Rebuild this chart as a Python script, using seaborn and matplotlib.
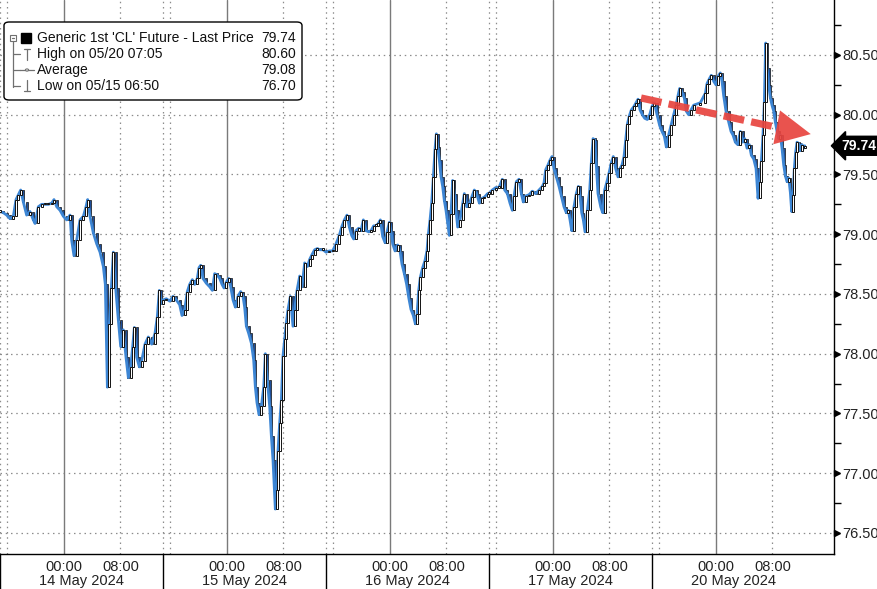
import numpy as np
import pandas as pd
import matplotlib
matplotlib.use("Agg")
import matplotlib.pyplot as plt
import seaborn as sns
from matplotlib.patches import FancyBboxPatch, Rectangle, Circle
from matplotlib.lines import Line2D
from matplotlib.transforms import blended_transform_factory

# trading sessions are 23h long, each opens at 15:00 (display time)
SESSION_HOURS = 23
days = ['14 May 2024', '15 May 2024', '16 May 2024', '17 May 2024', '20 May 2024']

# hours into each session / price
s1_h = [0.0, 0.47, 0.94, 1.41, 1.88, 2.26, 2.59, 2.92, 3.29, 3.76, 4.23, 4.70, 4.94, 5.41, 5.88,
        6.35, 6.82, 7.29, 7.62, 8.00, 8.47, 8.94, 9.41, 9.88, 10.11, 10.44, 10.82, 11.29, 11.76,
        12.14, 12.37, 12.70, 13.17, 13.64, 14.11, 14.58, 14.86, 15.15, 15.43, 15.71, 15.99, 16.32,
        16.70, 17.03, 17.40, 17.78, 18.11, 18.44, 18.72, 18.96, 19.29, 19.66, 19.99, 20.46, 20.93,
        21.40, 21.87, 22.20, 22.48, 22.77]
s1_p = [79.19, 79.18, 79.16, 79.13, 79.15, 79.29, 79.33, 79.37, 79.27, 79.16, 79.19, 79.12, 79.09,
        79.23, 79.25, 79.25, 79.25, 79.26, 79.29, 79.23, 79.20, 79.15, 79.12, 79.16, 78.95, 78.82,
        78.95, 79.12, 79.15, 79.23, 79.29, 79.15, 79.01, 78.92, 78.85, 78.73, 78.58, 77.72, 78.25,
        78.55, 78.85, 78.55, 78.28, 78.06, 78.20, 77.97, 77.80, 77.89, 78.06, 78.22, 77.97, 77.89,
        77.94, 78.08, 78.14, 78.08, 78.17, 78.31, 78.53, 78.42]

s2_h = [0.0, 0.47, 0.94, 1.41, 1.88, 2.35, 2.68, 3.06, 3.43, 3.76, 4.14, 4.47, 4.84, 5.08, 5.32,
        5.64, 6.11, 6.59, 6.96, 7.29, 7.62, 8.00, 8.33, 8.61, 8.94, 9.27, 9.55, 9.88, 10.21, 10.58,
        10.96, 11.29, 11.52, 11.76, 12.09, 12.46, 12.79, 13.03, 13.26, 13.55, 13.88, 14.21, 14.44,
        14.72, 15.05, 15.29, 15.52, 15.76, 15.85, 16.04, 16.23, 16.46, 16.70, 16.93, 17.17, 17.40,
        17.64, 17.97, 18.34, 18.58, 18.91, 19.29, 19.61, 19.99, 20.37, 20.70, 21.03, 21.40, 21.78,
        22.11, 22.58]
s2_p = [78.45, 78.46, 78.44, 78.48, 78.45, 78.41, 78.32, 78.37, 78.52, 78.58, 78.62, 78.58, 78.63,
        78.72, 78.74, 78.63, 78.59, 78.56, 78.53, 78.67, 78.66, 78.63, 78.58, 78.55, 78.60, 78.63,
        78.56, 78.45, 78.39, 78.48, 78.52, 78.48, 78.39, 78.23, 78.17, 78.09, 77.95, 77.72, 77.59,
        77.49, 77.56, 77.72, 78.00, 77.78, 77.56, 77.31, 77.11, 76.80, 76.70, 76.86, 77.19, 77.42,
        77.61, 77.98, 78.12, 78.26, 78.37, 78.48, 78.23, 78.37, 78.53, 78.65, 78.56, 78.76, 78.73,
        78.79, 78.83, 78.87, 78.88, 78.87, 78.87]

s3_h = [0.0, 0.47, 0.94, 1.41, 1.88, 2.21, 2.59, 2.96, 3.29, 3.62, 3.90, 4.23, 4.61, 4.94, 5.27,
        5.64, 6.02, 6.35, 6.73, 7.06, 7.38, 7.67, 8.00, 8.33, 8.61, 8.94, 9.17, 9.41, 9.74, 10.11,
        10.44, 10.72, 11.05, 11.38, 11.67, 11.99, 12.32, 12.61, 12.84, 13.08, 13.31, 13.64, 13.97,
        14.25, 14.44, 14.68, 14.91, 15.15, 15.38, 15.57, 15.76, 15.99, 16.23, 16.46, 16.70, 16.93,
        17.17, 17.40, 17.64, 17.87, 18.11, 18.34, 18.58, 18.91, 19.29, 19.52, 19.85, 20.23, 20.56,
        20.93, 21.26, 21.64, 22.01, 22.34, 22.81]
s3_p = [78.85, 78.86, 78.86, 78.92, 78.99, 79.06, 79.12, 79.16, 79.06, 78.99, 78.96, 79.03, 79.05,
        79.03, 79.12, 79.03, 79.02, 79.03, 79.07, 79.07, 79.09, 79.12, 78.98, 78.93, 79.02, 79.10,
        79.03, 78.92, 78.86, 78.91, 78.86, 78.75, 78.67, 78.58, 78.47, 78.37, 78.32, 78.25, 78.33,
        78.53, 78.64, 78.72, 78.78, 78.86, 79.00, 79.12, 79.26, 79.48, 79.71, 79.84, 79.73, 79.62,
        79.48, 79.40, 79.28, 79.20, 79.09, 78.99, 79.17, 79.45, 79.34, 79.20, 79.06, 79.12, 79.26,
        79.34, 79.23, 79.26, 79.31, 79.37, 79.34, 79.26, 79.30, 79.31, 79.34]

s4_h = [0.0, 0.47, 0.94, 1.41, 1.88, 2.21, 2.59, 2.96, 3.29, 3.53, 3.86, 4.23, 4.56, 4.84, 5.17,
        5.64, 6.11, 6.59, 7.06, 7.53, 7.76, 8.00, 8.33, 8.61, 8.89, 9.17, 9.50, 9.88, 10.21, 10.58,
        10.91, 11.19, 11.43, 11.67, 11.99, 12.32, 12.61, 12.84, 13.08, 13.31, 13.55, 13.88, 14.21,
        14.44, 14.68, 14.91, 15.15, 15.38, 15.76, 16.04, 16.32, 16.60, 16.93, 17.26, 17.54, 17.87,
        18.20, 18.49, 18.77, 19.05, 19.29, 19.52, 19.80, 20.08, 20.46, 20.74, 21.03, 21.31, 21.64,
        21.97, 22.34, 22.67]
s4_p = [79.34, 79.37, 79.39, 79.39, 79.46, 79.37, 79.34, 79.26, 79.20, 79.32, 79.44, 79.46, 79.34,
        79.27, 79.32, 79.33, 79.36, 79.34, 79.37, 79.40, 79.43, 79.54, 79.58, 79.62, 79.65, 79.55,
        79.48, 79.40, 79.32, 79.23, 79.18, 79.20, 79.12, 79.03, 79.23, 79.34, 79.40, 79.32, 79.18,
        79.12, 79.02, 79.20, 79.37, 79.60, 79.80, 79.79, 79.57, 79.34, 79.23, 79.18, 79.37, 79.43,
        79.51, 79.60, 79.65, 79.55, 79.48, 79.55, 79.58, 79.65, 79.79, 79.92, 79.99, 80.04, 80.07,
        80.10, 80.13, 80.04, 80.00, 79.97, 79.96, 80.00]

s5_h = [0.0, 0.33, 0.71, 1.08, 1.41, 1.74, 2.02, 2.35, 2.68, 3.06, 3.39, 3.67, 3.90, 4.23, 4.56,
        4.84, 5.17, 5.50, 5.88, 6.82, 7.53, 7.76, 8.09, 8.37, 8.70, 9.03, 9.31, 9.64, 9.88, 10.11,
        10.44, 10.82, 11.15, 11.43, 11.76, 12.09, 12.46, 12.79, 13.08, 13.41, 13.73, 14.02, 14.35,
        14.68, 14.96, 15.19, 15.43, 15.66, 15.85, 16.04, 16.23, 16.46, 16.70, 16.93, 17.17, 17.40,
        17.64, 17.87, 18.11, 18.34, 18.58, 18.81, 19.05, 19.29, 19.52, 19.71, 19.90, 20.08, 20.27,
        20.46, 20.70, 20.93, 21.17, 21.40, 21.54]
s5_p = [80.07, 80.10, 80.00, 79.91, 79.86, 79.82, 79.73, 79.83, 79.91, 80.00, 80.08, 80.16, 80.22,
        80.19, 80.14, 80.03, 80.00, 80.04, 80.08, 80.10, 80.18, 80.26, 80.30, 80.33, 80.28, 80.25,
        80.32, 80.35, 80.28, 80.16, 80.03, 79.94, 79.86, 79.83, 79.77, 79.75, 79.86, 79.77, 79.80,
        79.72, 79.75, 79.66, 79.63, 79.55, 79.30, 79.44, 79.61, 79.83, 80.11, 80.60, 80.39, 80.25,
        80.14, 80.08, 80.03, 79.94, 79.86, 79.80, 79.83, 79.72, 79.58, 79.49, 79.44, 79.47, 79.35,
        79.19, 79.33, 79.55, 79.69, 79.77, 79.76, 79.70, 79.75, 79.72, 79.74]

legend_labels = ["Generic 1st 'CL' Future - Last Price", 'High on 05/20 07:05', 'Average',
                 'Low on 05/15 06:50']
legend_values = ['79.74', '80.60', '79.08', '76.70']
last_price = 79.74

frames = []
for i, (h, p) in enumerate([(s1_h, s1_p), (s2_h, s2_p), (s3_h, s3_p), (s4_h, s4_p), (s5_h, s5_p)]):
    frames.append(pd.DataFrame({'t': np.array(h) + SESSION_HOURS * i, 'price': p}))
df = pd.concat(frames, ignore_index=True)

sns.set_style('white')
plt.rcParams['font.family'] = ['Liberation Sans', 'DejaVu Sans']

W, H = 878, 589
fig = plt.figure(figsize=(W / 100, H / 100), dpi=100)
ax = fig.add_axes([0, 35 / H, 834 / W, 554 / H])

blue = '#3d86d4'
grid_c = '#8c8c8c'

# grid
for v in np.arange(76.5, 80.51, 0.5):
    ax.axhline(v, color=grid_c, lw=0.9, ls=(0, (1.2, 3)), zorder=0)
for i in range(5):
    base = SESSION_HOURS * i
    for off in [0, 1, 17]:
        ax.axvline(base + off, color=grid_c, lw=0.9, ls=(0, (1.2, 3)), zorder=0)
    ax.axvline(base + 9, color='#7a7a7a', lw=1.0, zorder=0)

# candles (open = previous close) and the blue price line
opens = df['price'].shift(1).fillna(df['price'])
closes = df['price']
up = closes >= opens
ax.bar(df['t'][~up], (opens - closes)[~up].clip(lower=0.012), bottom=closes[~up], width=0.3,
       color='#1f4f9a', edgecolor='#111111', linewidth=0.5, zorder=2)
sns.lineplot(data=df, x='t', y='price', ax=ax, color=blue, lw=2.0, estimator=None,
             sort=False, legend=False, zorder=3)
ax.bar(df['t'][up], (closes - opens)[up].abs().clip(lower=0.012), bottom=opens[up], width=0.3,
       color='white', edgecolor='#111111', linewidth=0.7, zorder=4)

ax.set_xlim(0, 834 / 7.087)
ax.set_ylim(76.324, 80.96)
ax.set_xlabel('')
ax.set_ylabel('')

# axes styling
for s in ['top', 'left']:
    ax.spines[s].set_visible(False)
for s in ['right', 'bottom']:
    ax.spines[s].set_color('black')
    ax.spines[s].set_linewidth(1.0)

ax.yaxis.tick_right()
yt = np.arange(76.5, 80.51, 0.5)
ax.set_yticks(yt)
ax.set_yticklabels([f'{v:.2f}' for v in yt], fontsize=10.5, color='#222222')
ax.set_yticks(np.arange(76.75, 80.8, 0.5), minor=True)
ax.tick_params(axis='y', which='major', length=0, pad=6)
ax.tick_params(axis='y', which='minor', length=5, width=1, color='black', direction='out')
yb = blended_transform_factory(ax.transAxes, ax.transData)
ax.plot([1.004] * len(yt), yt, marker='>', ms=5, color='black', ls='none', transform=yb,
        clip_on=False, zorder=5)

xt_major = []
xt_lab = []
xt_minor = []
for i in range(5):
    base = SESSION_HOURS * i
    xt_major += [base + 9, base + 17]
    xt_lab += ['00:00', '08:00']
    xt_minor += [base + 1, base + 5, base + 13, base + 21]
ax.set_xticks(xt_major)
ax.set_xticklabels(xt_lab, fontsize=10.5, color='#222222')
ax.set_xticks(xt_minor, minor=True)
ax.tick_params(axis='x', which='both', length=4, width=1, color='black', direction='out', pad=0)

xb = blended_transform_factory(ax.transData, ax.transAxes)
for i, d in enumerate(days):
    base = SESSION_HOURS * i
    ax.text(base + 11.5, -0.049, d, transform=xb, ha='center', va='center', fontsize=10.5,
            color='#222222')
    ax.plot([base, base], [0, -0.07], transform=xb, color='black', lw=1, clip_on=False)

# last price tag
ax.text(1.009, last_price, f'{last_price:.2f}', transform=yb, ha='left', va='center',
        fontsize=10, color='white', fontweight='bold',
        bbox=dict(boxstyle='larrow,pad=0.18', fc='black', ec='black'), zorder=6, clip_on=False)

# red dashed trend arrow
red = '#e8443f'
ax.plot([90.45, 109.4], [80.14, 79.897], color=red, lw=5.2, ls=(0, (2.9, 1.0)),
        solid_capstyle='butt', dash_capstyle='butt', alpha=0.92, zorder=7)
ax.annotate('', xy=(114.4, 79.838), xytext=(109.2, 79.899),
            arrowprops=dict(arrowstyle='-|>,head_length=1.25,head_width=0.62', mutation_scale=20,
                            color=red, lw=0, shrinkA=0, shrinkB=0, alpha=0.92), zorder=7)

# legend box (figure pixel coords)
def fp(x, y):
    return x / W, 1 - y / H

tf = fig.transFigure
box = FancyBboxPatch(fp(4, 100), 298 / W, 78 / H, boxstyle='round,pad=0,rounding_size=0.006',
                     transform=tf, fc='white', ec='black', lw=1.0, zorder=10)
fig.add_artist(box)
rows_y = [38, 54, 70, 86]
for lab, val, ry in zip(legend_labels, legend_values, rows_y):
    fig.text(*fp(37, ry), lab, ha='left', va='center', fontsize=10, color='#111111', zorder=11)
    fig.text(*fp(296, ry), val, ha='right', va='center', fontsize=10, color='#111111', zorder=11)

g = '#707070'
def fl(xs, ys, c=g, lw=0.9):
    fig.add_artist(Line2D([x / W for x in xs], [1 - y / H for y in ys], color=c, lw=lw,
                          transform=tf, zorder=11))

# tree: collapse box, vertical guide, stubs
fig.add_artist(Rectangle(fp(10, 41), 6 / W, 6 / H, transform=tf, fc='white', ec=g, lw=0.8,
                         zorder=11))
fl([11.5, 14.5], [38, 38])
fl([13, 13], [41, 87])
for ry in rows_y[1:]:
    fl([13, 20], [ry, ry])
fig.add_artist(Rectangle(fp(21, 43), 10 / W, 10 / H, transform=tf, fc='black', ec='black',
                         zorder=11))
# high marker
fl([24, 30], [49, 49]); fl([27, 27], [49, 60])
# average marker
fl([20, 34], [70, 70])
fig.add_artist(Circle(fp(27, 70), 1.6 / W, transform=tf, fc='white', ec=g, lw=0.8, zorder=12))
# low marker
fl([27, 27], [80, 91]); fl([24, 30], [91, 91])

fig.savefig('out.png', dpi=100)
